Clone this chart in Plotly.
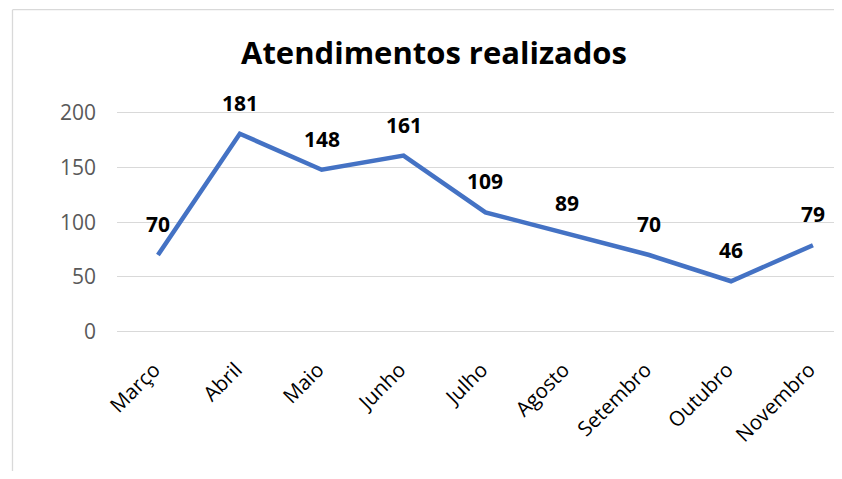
import plotly.graph_objects as go

meses = ["Março", "Abril", "Maio", "Junho", "Julho", "Agosto", "Setembro", "Outubro", "Novembro"]
atendimentos = [70, 181, 148, 161, 109, 89, 70, 46, 79]
y_ticks = [0, 50, 100, 150, 200]
titulo = "Atendimentos realizados"

FONT = "Open Sans"
OFF = 8  # page body margin
W, H = 842 - OFF, 479 - 2 * OFF
L, T = 117 - OFF, 102 - OFF
B = H - (337.5 - OFF)
PW = W - L
PH = H - T - B

fig = go.Figure()
fig.add_trace(go.Scatter(
    x=list(range(len(meses))), y=atendimentos, mode="lines",
    line=dict(color="#4472C4", width=4.5), hoverinfo="skip", cliponaxis=False,
))
for i, v in enumerate(atendimentos):
    fig.add_annotation(x=i, y=v, text=f"<b>{v}</b>", showarrow=False, yshift=31,
                       font=dict(family=FONT, size=21, color="#000000"))

bx = (12.5 - 117) / PW
by = 1 + (T - (9.5 - OFF)) / PH
fig.update_layout(
    width=W, height=H,
    margin=dict(l=L, r=0, t=T, b=B),
    paper_bgcolor="white", plot_bgcolor="white",
    showlegend=False,
    title=dict(text=f"<b>{titulo}</b>", x=(434 - OFF) / W, xanchor="center", y=1 - (53 - OFF) / H,
               yanchor="middle", font=dict(family=FONT, size=31, color="#000000")),
    xaxis=dict(range=[-0.5, -0.5 + PW / 81.875], tickmode="array", tickvals=list(range(len(meses))),
               ticktext=[m + "\u00a0" for m in meses], tickangle=-45, showgrid=False, zeroline=False,
               showline=False, ticks="",
               tickfont=dict(family=FONT, size=20.5, color="#000000"), ticklabelstandoff=12),
    yaxis=dict(range=[-5, 210], tickvals=y_ticks, showgrid=True, gridcolor="#D9D9D9", gridwidth=1.3,
               zeroline=False, showline=False, ticks="", ticklabelstandoff=20,
               tickfont=dict(family=FONT, size=21, color="#595959")),
    shapes=[
        dict(type="line", xref="paper", yref="paper", x0=bx, x1=bx, y0=-3, y1=by,
             line=dict(color="#D9D9D9", width=1.3), layer="below"),
        dict(type="line", xref="paper", yref="paper", x0=bx, x1=2, y0=by, y1=by,
             line=dict(color="#D9D9D9", width=1.3), layer="below"),
    ],
)
fig.write_html("out.html")
